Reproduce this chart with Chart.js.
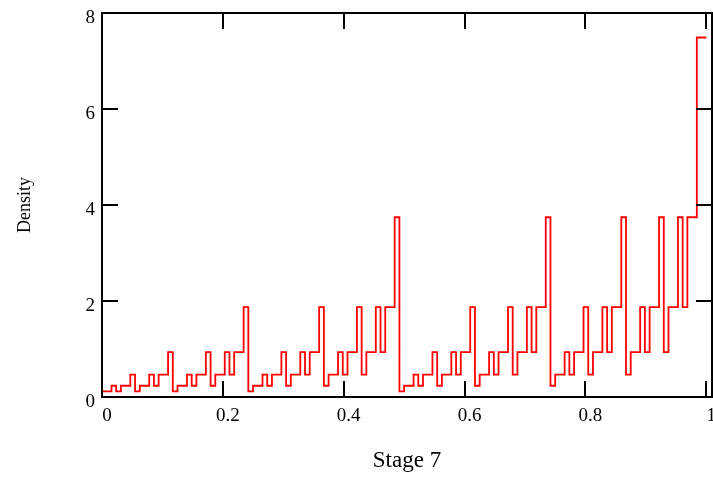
<!DOCTYPE html>
<html>
<head>
<meta charset="utf-8">
<script src="https://cdn.jsdelivr.net/npm/chart.js@4/dist/chart.umd.min.js"></script>
<style>
  html, body { margin: 0; padding: 0; background: #ffffff; }
  #wrap { width: 713px; height: 479px; position: relative; }
</style>
</head>
<body>
<div id="wrap"><canvas id="c" width="713" height="479"></canvas></div>
<script>
// Density of each of the 128 equal-width bins on [0, 1]
const binCount = 128;
const density = [
  0.059,0.117,0.117,0.234,0.117,0.234,0.234,0.468,0.117,0.234,0.234,0.468,0.234,0.468,0.468,0.936,
  0.117,0.234,0.234,0.468,0.234,0.468,0.468,0.936,0.234,0.468,0.468,0.936,0.468,0.936,0.936,1.873,
  0.117,0.234,0.234,0.468,0.234,0.468,0.468,0.936,0.234,0.468,0.468,0.936,0.468,0.936,0.936,1.873,
  0.234,0.468,0.468,0.936,0.468,0.936,0.936,1.873,0.468,0.936,0.936,1.873,0.936,1.873,1.873,3.745,
  0.117,0.234,0.234,0.468,0.234,0.468,0.468,0.936,0.234,0.468,0.468,0.936,0.468,0.936,0.936,1.873,
  0.234,0.468,0.468,0.936,0.468,0.936,0.936,1.873,0.468,0.936,0.936,1.873,0.936,1.873,1.873,3.745,
  0.234,0.468,0.468,0.936,0.468,0.936,0.936,1.873,0.468,0.936,0.936,1.873,0.936,1.873,1.873,3.745,
  0.468,0.936,0.936,1.873,0.936,1.873,1.873,3.745,0.936,1.873,1.873,3.745,1.873,3.745,3.745,7.49
];
const xTickValues = [0, 0.2, 0.4, 0.6, 0.8, 1];
const xTickLabels = ["0", "0.2", "0.4", "0.6", "0.8", "1"];
const yTickValues = [0, 2, 4, 6, 8];
const yTickLabels = ["0", "2", "4", "6", "8"];
const xTitle = "Stage 7";
const yTitle = "Density";

// step points: left edge of each bin, plus the right end of the last bin
const points = density.map((v, i) => ({ x: i / binCount, y: v }));
points.push({ x: 1, y: density[density.length - 1] });

const frameTicks = {
  id: 'frameTicks',
  afterDraw(chart) {
    const { ctx, chartArea: a, scales } = chart;
    const xs = scales.x, ys = scales.y;
    const L = 16;
    ctx.save();
    ctx.strokeStyle = '#000';
    ctx.lineWidth = 2;
    ctx.beginPath();
    xTickValues.forEach(v => {
      const px = Math.round(xs.getPixelForValue(v));
      ctx.moveTo(px, a.bottom); ctx.lineTo(px, a.bottom - L);
      ctx.moveTo(px, a.top); ctx.lineTo(px, a.top + L);
    });
    yTickValues.forEach(v => {
      const py = Math.round(ys.getPixelForValue(v));
      ctx.moveTo(a.left, py); ctx.lineTo(a.left + L, py);
      ctx.moveTo(a.right, py); ctx.lineTo(a.right - L, py);
    });
    ctx.stroke();
    ctx.strokeRect(a.left, a.top, a.right - a.left, a.bottom - a.top);
    ctx.restore();
  }
};

const serif = "'Liberation Serif', 'Times New Roman', serif";

new Chart(document.getElementById('c'), {
  type: 'line',
  data: {
    datasets: [{
      data: points,
      stepped: 'after',
      borderColor: '#ff0000',
      borderWidth: 1.8,
      pointRadius: 0,
      fill: false,
      tension: 0
    }]
  },
  options: {
    responsive: false,
    animation: false,
    events: [],
    layout: { padding: { top: 13, right: 1, left: 0, bottom: 0 } },
    plugins: { legend: { display: false }, tooltip: { enabled: false } },
    scales: {
      x: {
        type: 'linear',
        min: 0,
        max: 1.0095,
        grid: { display: false, drawTicks: false },
        border: { display: false },
        afterBuildTicks: s => { s.ticks = xTickValues.map(v => ({ value: v })); },
        afterFit: s => { s.height = 82; s.paddingLeft = 0; s.paddingRight = 0; },
        ticks: {
          padding: 8,
          labelOffset: 5,
          maxRotation: 0,
          color: '#000',
          font: { family: serif, size: 19 },
          callback: (v) => { const i = xTickValues.indexOf(v); return i >= 0 ? xTickLabels[i] : ''; }
        },
        title: {
          display: true,
          text: xTitle,
          color: '#000',
          font: { family: serif, size: 23 },
          padding: 4
        }
      },
      y: {
        type: 'linear',
        min: 0,
        max: 8,
        grid: { display: false, drawTicks: false },
        border: { display: false },
        afterBuildTicks: s => { s.ticks = yTickValues.map(v => ({ value: v })); },
        afterFit: s => { s.width = 102; s.paddingTop = 0; s.paddingBottom = 0; },
        ticks: {
          padding: 7,
          labelOffset: 5,
          color: '#000',
          font: { family: serif, size: 19 },
          callback: (v) => { const i = yTickValues.indexOf(v); return i >= 0 ? yTickLabels[i] : ''; }
        },
        title: {
          display: true,
          text: yTitle,
          color: '#000',
          font: { family: serif, size: 18 },
          padding: 14
        }
      }
    }
  },
  plugins: [frameTicks]
});
</script>
</body>
</html>
